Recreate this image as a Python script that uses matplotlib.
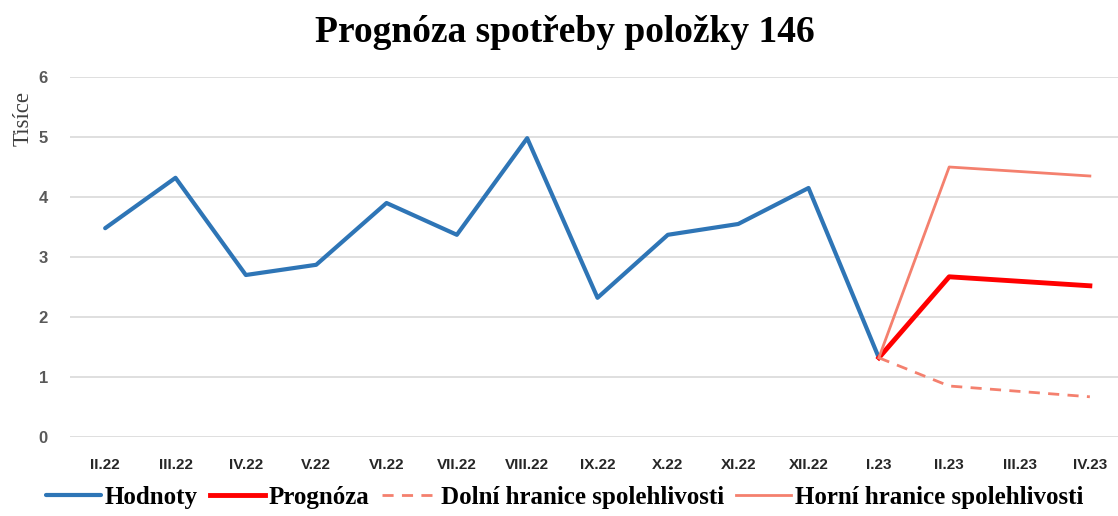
import matplotlib.pyplot as plt
import numpy as np

# data (thousands)
months = ["II.22", "III.22", "IV.22", "V.22", "VI.22", "VII.22", "VIII.22", "IX.22",
          "X.22", "XI.22", "XII.22", "I.23", "II.23", "III.23", "IV.23"]
hodnoty = [3.48, 4.32, 2.70, 2.87, 3.90, 3.37, 4.98, 2.32, 3.37, 3.55, 4.15, 1.32,
           None, None, None]
prognoza = [None] * 11 + [1.32, 2.67, None, 2.52]
dolni = [None] * 11 + [1.32, 0.85, None, 0.67]
horni = [None] * 11 + [1.32, 4.50, None, 4.35]


def pts(series):
    x = [i for i, v in enumerate(series) if v is not None]
    y = [v for v in series if v is not None]
    return x, y


fig = plt.figure(figsize=(11.18, 5.16), dpi=100)
ax = fig.add_axes([70 / 1118, 79 / 516, 1048 / 1118, 360 / 516])

tick_font = ["Liberation Sans", "DejaVu Sans"]
serif = ["Liberation Serif", "DejaVu Serif"]

ax.plot(*pts(hodnoty), color="#2E75B6", lw=3, label="Hodnoty", solid_capstyle="round")
ax.plot(*pts(prognoza), color="#FF0000", lw=3.5, label="Prognóza")
ax.plot(*pts(dolni), color="#F4806E", lw=2, ls=(0, (4, 3)), label="Dolní hranice spolehlivosti")
ax.plot(*pts(horni), color="#F4806E", lw=2, label="Horní hranice spolehlivosti")

ax.set_xlim(-0.5, 14.4)
ax.set_ylim(0, 6)
ax.set_yticks(range(7))
ax.set_xticks(range(len(months)))
ax.set_xticklabels(months, family=tick_font, fontweight="bold", fontsize=11, color="#262626")
ax.set_yticklabels([str(i) for i in range(7)], family=tick_font, fontweight="bold",
                   fontsize=12, color="#595959")
ax.tick_params(length=0, pad=15)
ax.tick_params(axis="y", pad=16)
ax.grid(axis="y", color="#D9D9D9", lw=1.2)
ax.set_axisbelow(True)
for s in ax.spines.values():
    s.set_visible(False)

fig.text(0.021, 0.77, "Tisíce", rotation=90, family=serif, fontsize=16.5,
         color="#404040", ha="center", va="center")
fig.suptitle("Prognóza spotřeby položky 146", family=serif, fontweight="bold",
             fontsize=27, y=0.97, x=0.505)

fig.legend(loc="center", bbox_to_anchor=(0.505, 0.036), ncol=4, frameon=False,
           prop={"family": serif, "weight": "bold", "size": 18},
           handlelength=2.2, handletextpad=0.15, columnspacing=0.5)

fig.savefig("out.png", dpi=100)
